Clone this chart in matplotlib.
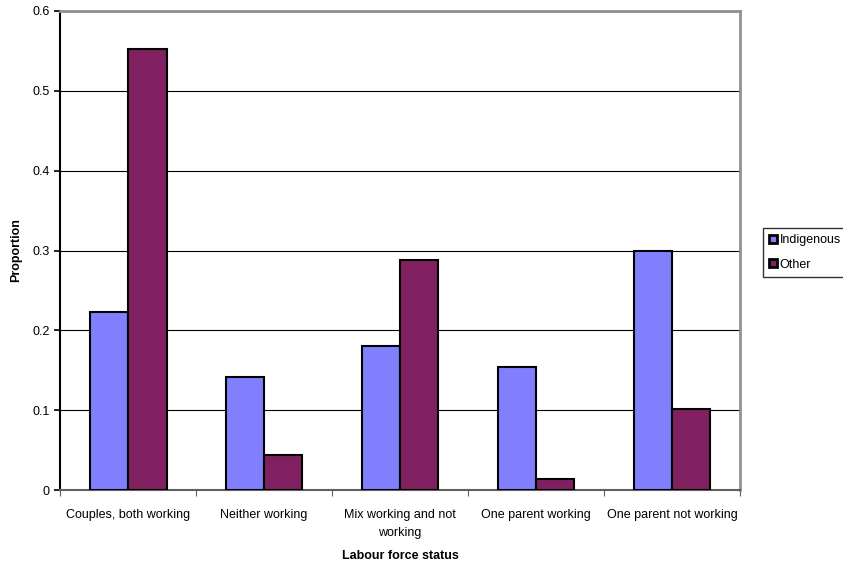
import matplotlib.pyplot as plt
import numpy as np

plt.rcParams['font.family'] = ['Liberation Sans', 'DejaVu Sans']

# datos
categorias = ['Couples, both working', 'Neither working', 'Mix working and not\nworking',
              'One parent working', 'One parent not working']
indigenous = [0.223, 0.141, 0.181, 0.154, 0.299]
other = [0.553, 0.044, 0.288, 0.014, 0.102]

fig = plt.figure(figsize=(8.43, 5.64), dpi=100)
ax = fig.add_axes([0.0712, 0.1312, 0.8066, 0.8493])

x = np.arange(len(categorias))
ancho = 0.283
ax.bar(x - ancho / 2, indigenous, ancho, color='#8080FF', edgecolor='black', linewidth=1.5,
       label='Indigenous', zorder=3)
ax.bar(x + ancho / 2, other, ancho, color='#802060', edgecolor='black', linewidth=1.5,
       label='Other', zorder=3)

ax.set_xlim(-0.5, len(categorias) - 0.5)
ax.set_ylim(0, 0.6)
ax.set_yticks([0, 0.1, 0.2, 0.3, 0.4, 0.5, 0.6])
ax.set_yticklabels(['0', '0.1', '0.2', '0.3', '0.4', '0.5', '0.6'], fontsize=9)
ax.yaxis.grid(True, color='black', linewidth=0.8, zorder=0)

# ticks en los limites de las categorias, etiquetas en el centro
ax.set_xticks(np.arange(len(categorias) + 1) - 0.5)
ax.set_xticklabels([])
ax.set_xticks(x, minor=True)
ax.set_xticklabels(categorias, minor=True, fontsize=9, linespacing=1.6)
ax.tick_params(axis='x', which='minor', length=0, pad=14)
ax.tick_params(axis='x', which='major', length=4, direction='out', color='#606060')
ax.tick_params(axis='y', length=4, direction='out', width=1.2)

ax.spines['left'].set_color('black')
ax.spines['left'].set_linewidth(1.5)
ax.spines['bottom'].set_color('#606060')
ax.spines['bottom'].set_linewidth(1.5)
ax.spines['top'].set_color('#909090')
ax.spines['top'].set_linewidth(2)
ax.spines['right'].set_color('#909090')
ax.spines['right'].set_linewidth(2)

ax.set_xlabel('Labour force status', fontsize=9, fontweight='bold', labelpad=8)
ax.set_ylabel('Proportion', fontsize=9, fontweight='bold', labelpad=7)

leg = ax.legend(loc='upper left', bbox_to_anchor=(1.025, 0.56), fontsize=9, frameon=True,
                fancybox=False, edgecolor='black', handlelength=0.6, handleheight=0.6,
                handletextpad=0.2, borderpad=0.5, labelspacing=1.0)
leg.get_frame().set_linewidth(1)
for h in leg.legend_handles:
    h.set_linewidth(2)

plt.savefig('out.png', dpi=100)
